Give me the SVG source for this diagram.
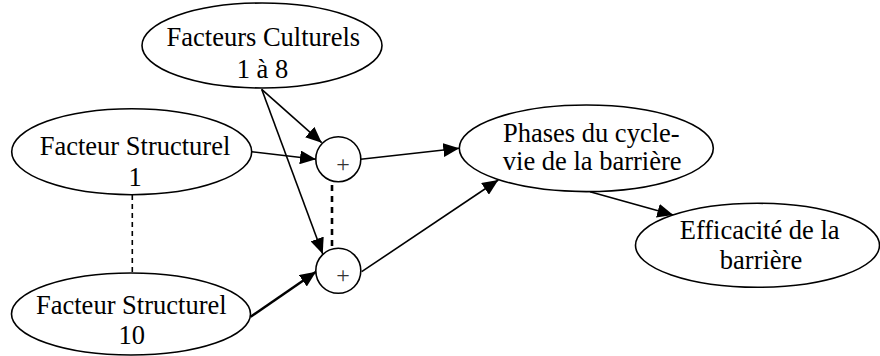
<svg xmlns="http://www.w3.org/2000/svg" width="880" height="356" viewBox="0 0 880 356">
<defs>
<marker id="ah" markerUnits="userSpaceOnUse" markerWidth="17" markerHeight="14" refX="16" refY="7" orient="auto">
<path d="M0,0 L16,7 L0,14 z" fill="#000"/>
</marker>
<style>
.n{fill:#fff;stroke:#000;stroke-width:1.6}
.t{font-family:"Liberation Serif","Times New Roman",serif;font-size:26.5px;fill:#000;text-anchor:middle}
.p{font-family:"Liberation Serif","Times New Roman",serif;font-size:24px;fill:#333;text-anchor:middle}
.c{stroke:#000;stroke-width:1.6;fill:none}
.d{stroke:#000;fill:none}
</style>
</defs>
<rect width="880" height="356" fill="#fff"/>
<g id="connectors">
<line class="c" x1="261.7" y1="89.3" x2="321.7" y2="142.7" marker-end="url(#ah)"/>
<line class="c" x1="261.7" y1="89.3" x2="322.7" y2="254" marker-end="url(#ah)"/>
<line class="c" x1="251.7" y1="151.7" x2="316" y2="159.3" marker-end="url(#ah)"/>
<line class="c" style="stroke-width:2.5" x1="250.7" y1="316.7" x2="316" y2="271.7" marker-end="url(#ah)"/>
<line class="c" x1="360.7" y1="159.3" x2="459.3" y2="148.3" marker-end="url(#ah)"/>
<line class="c" x1="361.7" y1="271.7" x2="498.3" y2="180" marker-end="url(#ah)"/>
<line class="c" x1="590" y1="191.7" x2="673.3" y2="215" marker-end="url(#ah)"/>
<line class="d" stroke-width="1.6" stroke-dasharray="5,4" x1="132.3" y1="195" x2="132.3" y2="273"/>
<line class="d" stroke-width="2.6" stroke-dasharray="6,5" x1="332" y1="185" x2="332" y2="247"/>
</g>
<g id="culturels">
<ellipse class="n" cx="262" cy="45.5" rx="120" ry="42.5"/>
<text class="t" x="263.3" y="46">Facteurs Culturels</text>
<text class="t" x="262.5" y="78">1 à 8</text>
</g>
<g id="structurel1">
<ellipse class="n" cx="131.7" cy="151.7" rx="120" ry="43"/>
<text class="t" x="135" y="154.5">Facteur Structurel</text>
<text class="t" x="135" y="185.5">1</text>
</g>
<g id="structurel10">
<ellipse class="n" cx="131" cy="314" rx="119.5" ry="41"/>
<text class="t" x="131.3" y="313.5">Facteur Structurel</text>
<text class="t" x="131.7" y="344">10</text>
</g>
<g id="sum1">
<circle class="n" cx="338.3" cy="159.2" r="22.5"/>
<text class="p" x="343" y="171.5">+</text>
</g>
<g id="sum2">
<circle class="n" cx="338.3" cy="270.8" r="22.5"/>
<text class="p" x="343" y="282.5">+</text>
</g>
<g id="phases">
<ellipse class="n" cx="586.3" cy="148.3" rx="127" ry="43.3"/>
<text class="t" x="591.3" y="141.7">Phases du cycle-</text>
<text class="t" x="592.2" y="170">vie de la barrière</text>
</g>
<g id="efficacite">
<ellipse class="n" cx="757.5" cy="245.3" rx="122" ry="42"/>
<text class="t" x="759.7" y="238.5">Efficacité de la</text>
<text class="t" x="761" y="269">barrière</text>
</g>
</svg>
